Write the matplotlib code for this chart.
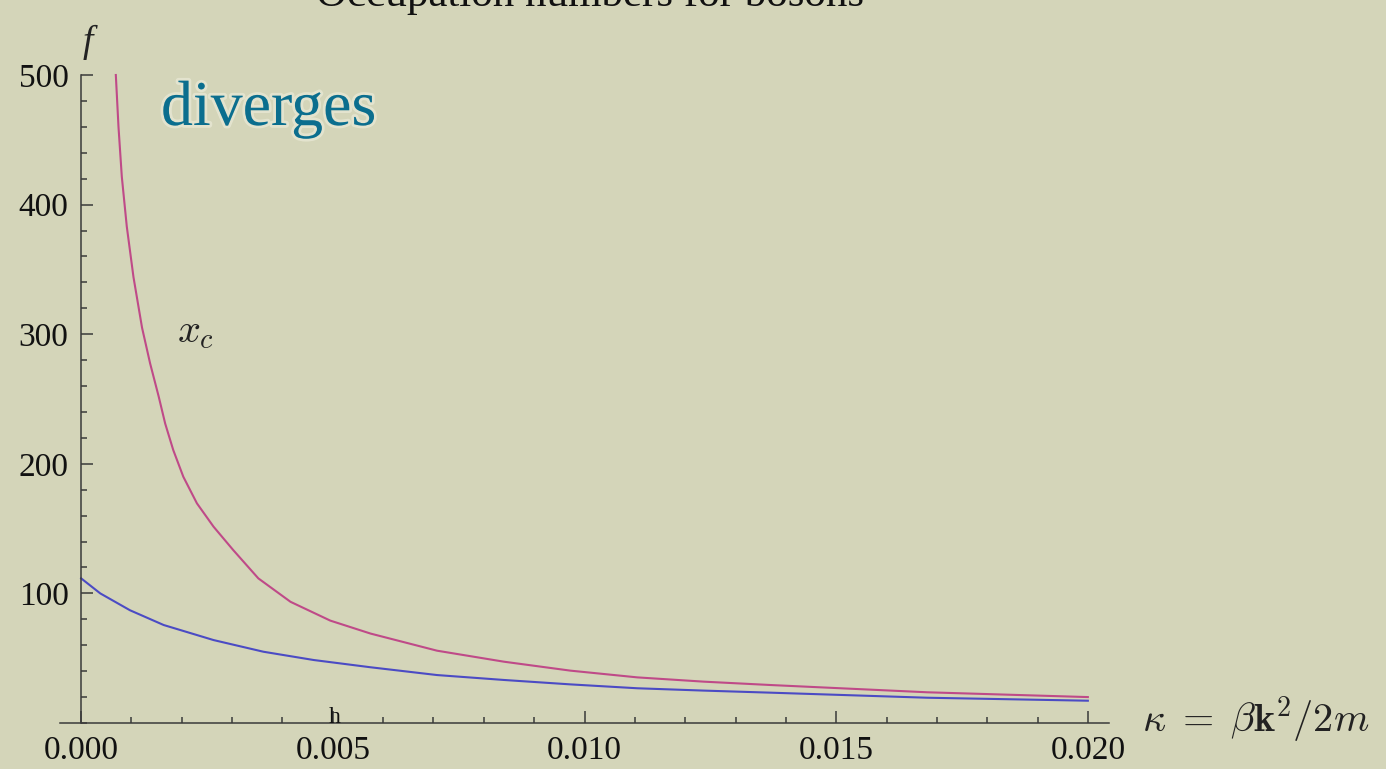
import matplotlib
matplotlib.use("Agg")
import matplotlib.pyplot as plt
import matplotlib.patheffects as pe
from matplotlib.ticker import MultipleLocator

plt.rcParams['mathtext.fontset'] = 'cm'

# kappa values and occupation numbers
kappa_xc = [0.000689, 0.000742, 0.000808, 0.000907, 0.00104, 0.00121, 0.00137,
            0.00154, 0.00167, 0.00183, 0.00203, 0.0023, 0.00263, 0.00302, 0.00352,
            0.00416, 0.00495, 0.00575, 0.00707, 0.0084, 0.00972, 0.01105, 0.01237,
            0.0137, 0.01681, 0.02]
f_xc = [500, 460, 421.5, 383, 344, 305, 277.5, 252, 231, 210.6, 190, 169.5, 151.5,
        133.5, 111.6, 93.5, 79, 69, 55.8, 47.3, 40.4, 35.2, 31.9, 29.3, 23.7, 20]

kappa_blue = [0.0, 0.00038, 0.00097, 0.00164, 0.00263, 0.00362, 0.00462, 0.00575,
              0.00707, 0.0084, 0.00972, 0.01105, 0.01237, 0.0137, 0.01681, 0.02]
f_blue = [111.6, 100, 87, 75.6, 64, 55, 48.6, 43, 37, 33.2, 29.8, 26.8, 25, 23.4,
          19.5, 17.2]

x_ticks = [0.0, 0.005, 0.010, 0.015, 0.020]
x_ticklabels = ['0.000', '0.005', '0.010', '0.015', '0.020']
y_ticks = [100, 200, 300, 400, 500]

bg = '#D4D5B9'
axis_col = '#3a3a3a'
serif = ['Liberation Serif', 'DejaVu Serif']

fig = plt.figure(figsize=(13.86, 7.69), dpi=100, facecolor=bg)
W, H = 1386, 769
ax = fig.add_axes([60 / W, 46 / H, 1049 / W, 648 / H])
ax.set_facecolor(bg)
ax.patch.set_alpha(0)

ax.plot(kappa_blue, f_blue, color='#4B4BC4', lw=1.5, clip_on=False)
ax.plot(kappa_xc, f_xc, color='#BF4A88', lw=1.5, clip_on=False)

ax.set_xlim(-0.00042, 0.02042)
ax.set_ylim(0, 500)

for s in ['top', 'right']:
    ax.spines[s].set_visible(False)
ax.spines['left'].set_position(('data', 0))
ax.spines['left'].set_bounds(0, 500)
ax.spines['bottom'].set_position(('data', 0))
for s in ['left', 'bottom']:
    ax.spines[s].set_color(axis_col)
    ax.spines[s].set_linewidth(1.1)

ax.set_xticks(x_ticks)
ax.set_xticklabels(x_ticklabels)
ax.set_yticks(y_ticks)
ax.xaxis.set_minor_locator(MultipleLocator(0.001))
ax.yaxis.set_minor_locator(MultipleLocator(20))
ax.tick_params(which='both', direction='in', color=axis_col, width=1.1)
ax.tick_params(which='major', length=8.5)
ax.tick_params(which='minor', length=4.5)
ax.tick_params(axis='x', which='major', pad=9)
ax.tick_params(axis='y', which='major', pad=9)
for lab in ax.get_xticklabels() + ax.get_yticklabels():
    lab.set_family(serif)
    lab.set_fontsize(24)
    lab.set_color('#111111')

# labels and annotations
fig.text(88 / W, 1 - 52 / H, 'f', family=serif, style='italic', fontsize=27,
         color='#222222', ha='center', va='baseline')
fig.text(1142 / W, 1 - 732 / H, r'$\kappa\;=\;\beta\mathbf{k}^2/2m$', fontsize=29,
         color='#222222', ha='left', va='baseline')
fig.text(177 / W, 1 - 342 / H, r'$x_c$', fontsize=29, color='#222222',
         ha='left', va='baseline')
fig.text(161 / W, 1 - 125 / H, 'diverges', family=serif, fontsize=46,
         color='#0B6E8E', ha='left', va='baseline',
         path_effects=[pe.withStroke(linewidth=4, foreground='#eeeedd', alpha=0.6)])
fig.text(335 / W, 1 - 723 / H, 'h', family=serif, fontsize=17, color='#111111',
         ha='center', va='baseline')
fig.text(590 / W, 1 - 6 / H, 'Occupation numbers for bosons', family=serif,
         fontsize=31, color='#111111', ha='center', va='baseline')

fig.savefig('out.png', dpi=100, facecolor=bg)
